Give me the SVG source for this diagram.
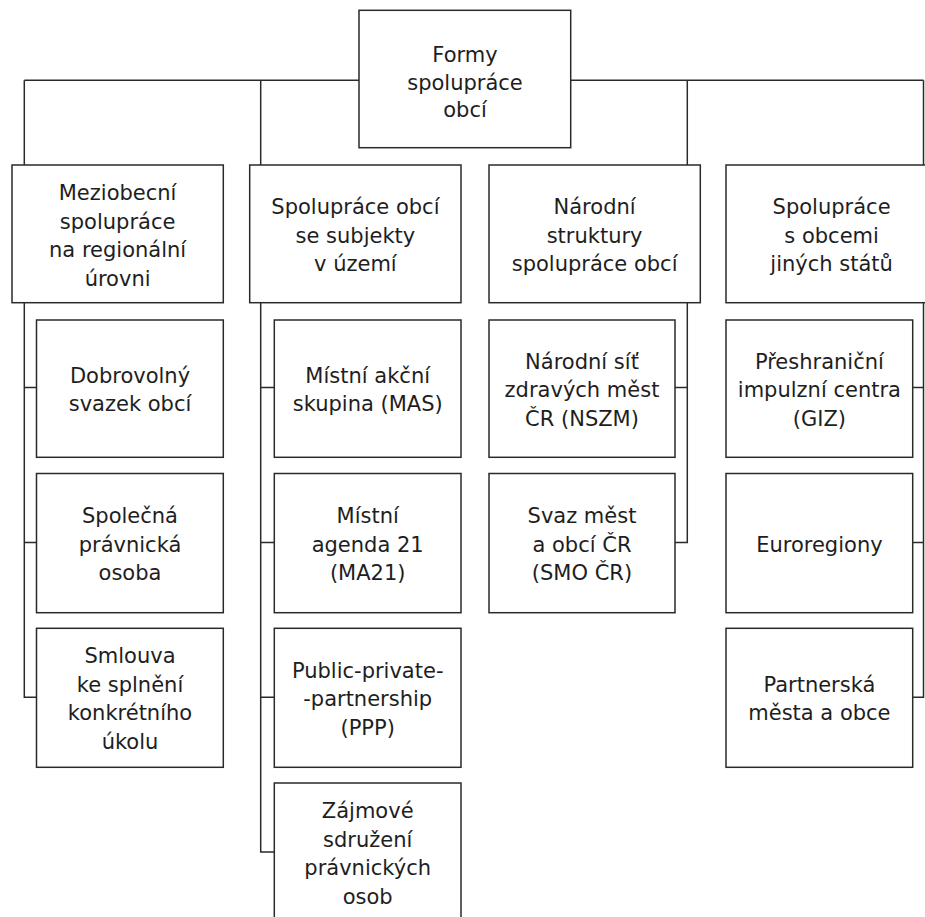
<svg xmlns="http://www.w3.org/2000/svg" width="925" height="917" viewBox="0 0 925 917">
<style>
.box{fill:#fff;stroke:#2a2a2a;stroke-width:1.5}
.con{fill:none;stroke:#2a2a2a;stroke-width:1.5}
text{font-family:"DejaVu Sans","Liberation Sans",sans-serif;font-size:21px;fill:#1e1e1e;text-anchor:middle}
</style>
<rect width="925" height="917" fill="#fff"/>
<g id="connectors" class="con">
<path d="M24.3 80.3H923.5"/>
<path d="M24.3 80.3V165M260.7 80.3V165M687.3 80.3V165M923.5 80.3V165"/>
<path d="M24.3 303V697.3H36.5M24.3 387.5H36.5M24.3 542.5H36.5"/>
<path d="M260.7 303V852H274.3M260.7 387.5H274.3M260.7 542.5H274.3M260.7 697.3H274.3"/>
<path d="M687.3 303V542.5H675M687.3 387.5H675"/>
<path d="M923.5 303V697.3H912.7M923.5 387.5H912.7M923.5 542.5H912.7"/>
</g>
<g id="root"><rect class="box" x="359" y="10.3" width="211.7" height="137.4"/>
<text x="465" y="61.5">Formy<tspan x="465" y="89.5">spolupráce</tspan><tspan x="465" y="117">obcí</tspan></text></g>
<g id="l1-meziobecni"><rect class="box" x="12" y="165" width="211.3" height="137.7"/>
<text x="117.6" y="200">Meziobecní<tspan x="117.6" y="228.5">spolupráce</tspan><tspan x="117.6" y="257">na regionální</tspan><tspan x="117.6" y="285.5">úrovni</tspan></text></g>
<g id="l1-subjekty"><rect class="box" x="249.7" y="165" width="211.3" height="137.7"/>
<text x="355.4" y="214.3">Spolupráce obcí<tspan x="355.4" y="242.8">se subjekty</tspan><tspan x="355.4" y="271.3">v území</tspan></text></g>
<g id="l1-narodni"><rect class="box" x="489" y="165" width="211.3" height="137.7"/>
<text x="594.6" y="214.3">Národní<tspan x="594.6" y="242.8">struktury</tspan><tspan x="594.6" y="271.3">spolupráce obcí</tspan></text></g>
<g id="l1-zahranici"><rect class="box" x="726" y="165" width="211.3" height="137.7"/>
<text x="831.6" y="214.3">Spolupráce<tspan x="831.6" y="242.8">s obcemi</tspan><tspan x="831.6" y="271.3">jiných států</tspan></text></g>
<g id="c1-dso"><rect class="box" x="36.5" y="320" width="186.8" height="137.3"/>
<text x="130" y="382.8">Dobrovolný<tspan x="130" y="411.3">svazek obcí</tspan></text></g>
<g id="c1-spo"><rect class="box" x="36.5" y="473.5" width="186.8" height="139.2"/>
<text x="130" y="523">Společná<tspan x="130" y="551.5">právnická</tspan><tspan x="130" y="580">osoba</tspan></text></g>
<g id="c1-smlouva"><rect class="box" x="36.5" y="628.3" width="186.8" height="139"/>
<text x="130" y="663.3">Smlouva<tspan x="130" y="691.8">ke splnění</tspan><tspan x="130" y="720.3">konkrétního</tspan><tspan x="130" y="748.8">úkolu</tspan></text></g>
<g id="c2-mas"><rect class="box" x="274.3" y="320" width="186.7" height="137.3"/>
<text x="367.7" y="382.8">Místní akční<tspan x="367.7" y="411.3">skupina (MAS)</tspan></text></g>
<g id="c2-ma21"><rect class="box" x="274.3" y="473.5" width="186.7" height="139.2"/>
<text x="367.7" y="523">Místní<tspan x="367.7" y="551.5">agenda 21</tspan><tspan x="367.7" y="580">(MA21)</tspan></text></g>
<g id="c2-ppp"><rect class="box" x="274.3" y="628.3" width="186.7" height="139"/>
<text x="367.7" y="677.8">Public-private-<tspan x="367.7" y="706.3">-partnership</tspan><tspan x="367.7" y="734.8">(PPP)</tspan></text></g>
<g id="c2-zajmove"><rect class="box" x="274.3" y="783" width="186.7" height="138"/>
<text x="367.7" y="818">Zájmové<tspan x="367.7" y="846.5">sdružení</tspan><tspan x="367.7" y="875">právnických</tspan><tspan x="367.7" y="903.5">osob</tspan></text></g>
<g id="c3-nszm"><rect class="box" x="489" y="320" width="186" height="137.3"/>
<text x="582" y="368.5">Národní síť<tspan x="582" y="397">zdravých měst</tspan><tspan x="582" y="425.5">ČR (NSZM)</tspan></text></g>
<g id="c3-smo"><rect class="box" x="489" y="473.5" width="186" height="139.2"/>
<text x="582" y="523">Svaz měst<tspan x="582" y="551.5">a obcí ČR</tspan><tspan x="582" y="580">(SMO ČR)</tspan></text></g>
<g id="c4-giz"><rect class="box" x="726" y="320" width="186.7" height="137.3"/>
<text x="819.4" y="368.5">Přeshraniční<tspan x="819.4" y="397">impulzní centra</tspan><tspan x="819.4" y="425.5">(GIZ)</tspan></text></g>
<g id="c4-euro"><rect class="box" x="726" y="473.5" width="186.7" height="139.2"/>
<text x="819.4" y="551.5">Euroregiony</text></g>
<g id="c4-partner"><rect class="box" x="726" y="628.3" width="186.7" height="139"/>
<text x="819.4" y="691.8">Partnerská<tspan x="819.4" y="720.3">města a obce</tspan></text></g>
</svg>
